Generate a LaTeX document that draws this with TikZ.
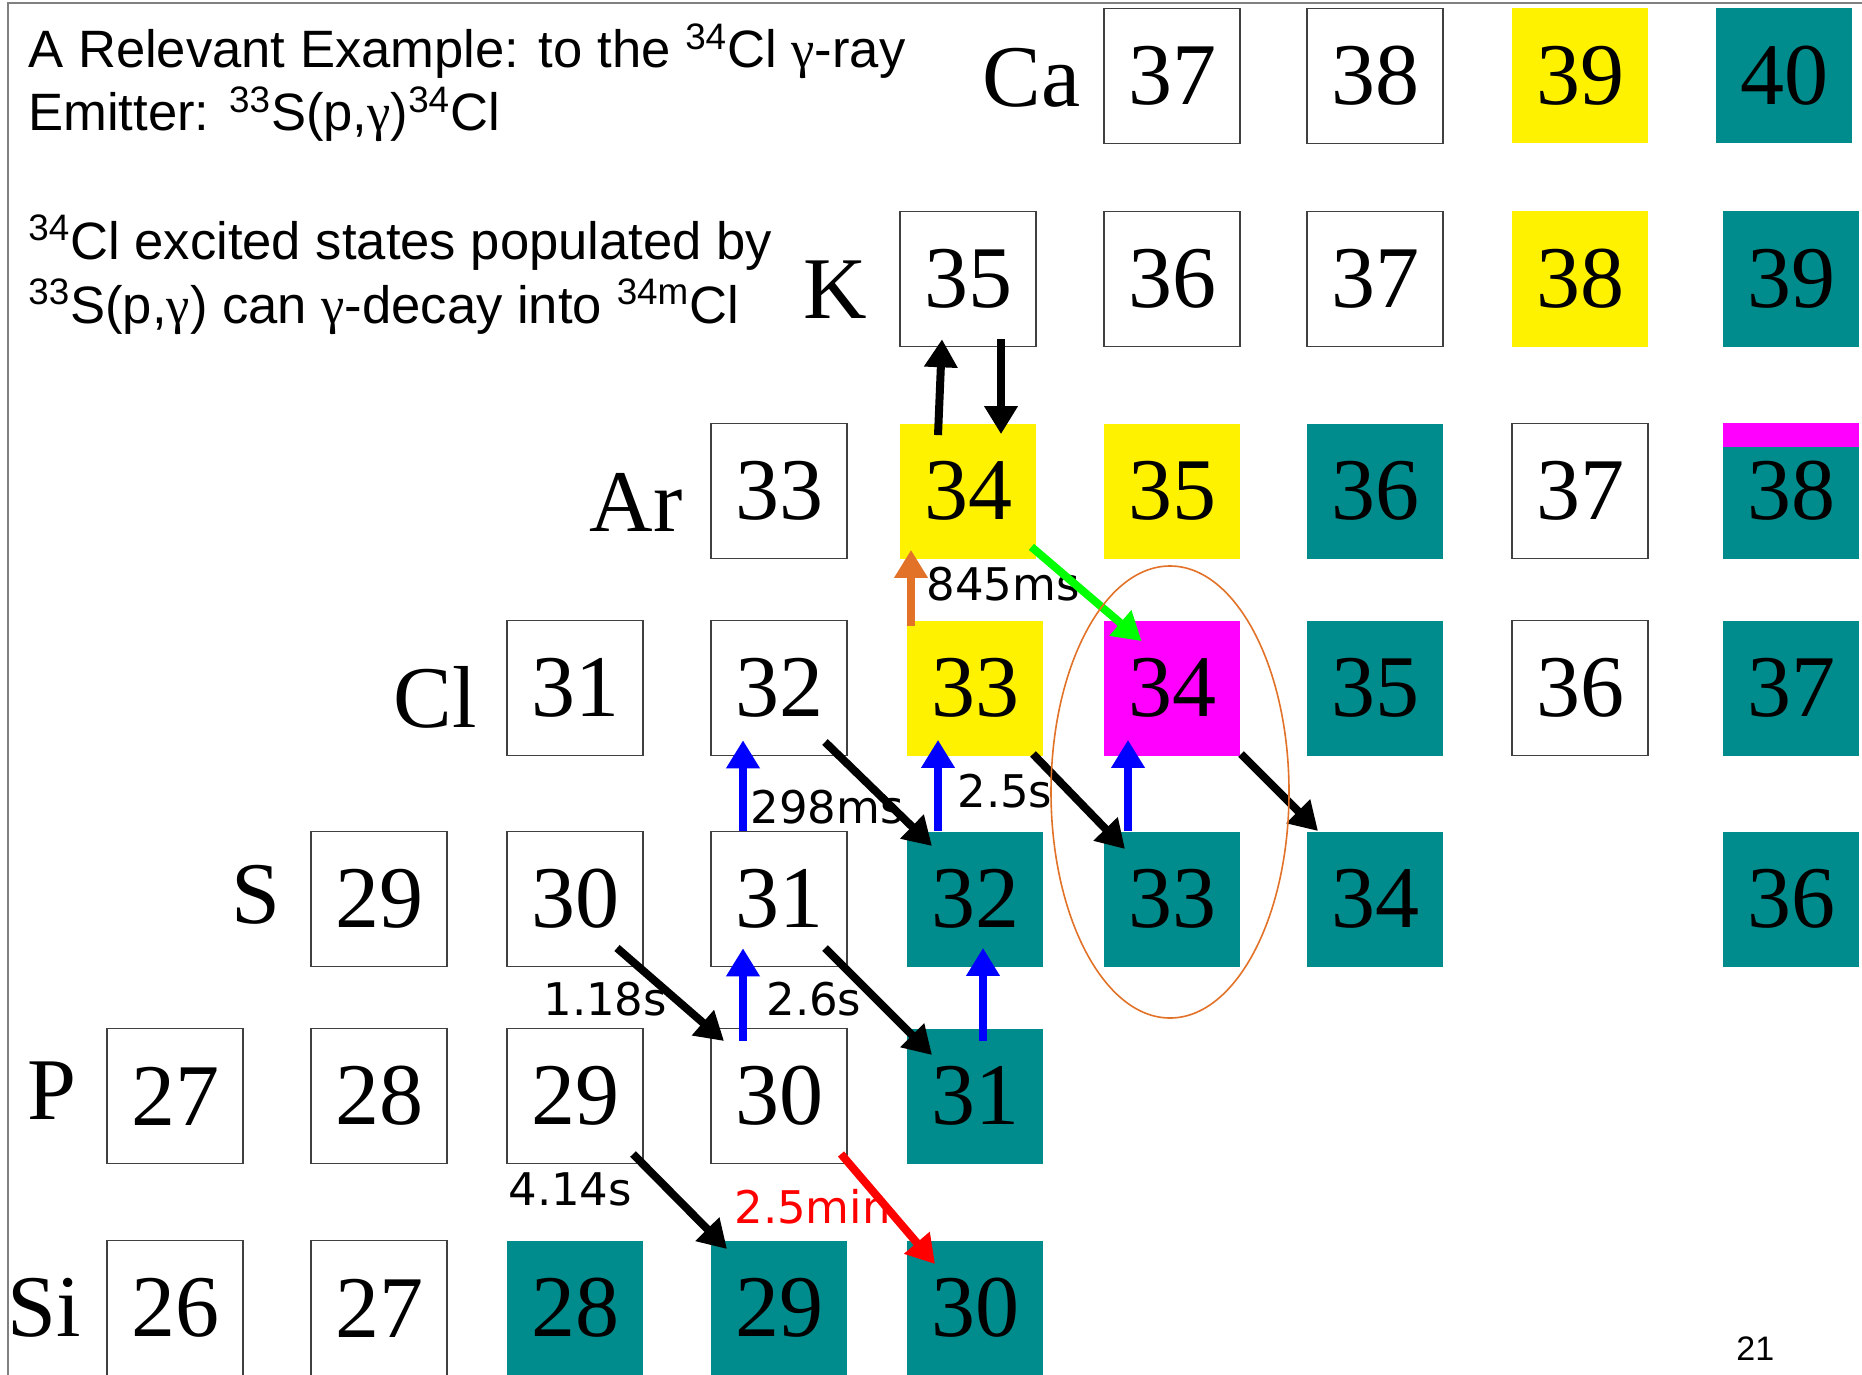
\documentclass[tikz,border=0pt]{standalone}
\usepackage{fontspec}
\setmainfont{Liberation Serif}
\setsansfont{Liberation Sans}
\newfontfamily\lifefont{DejaVu Sans}
\usetikzlibrary{arrows.meta,calc}
\definecolor{stabteal}{RGB}{0,140,140}
\definecolor{ringorange}{RGB}{226,114,40}
\definecolor{isomag}{RGB}{255,0,255}
\newcommand\gam{{\rmfamily γ}}

\tikzset{
  nuc/.style={minimum width=68pt,minimum height=67.5pt,inner sep=0pt,font=\fontsize{44}{50}\selectfont},
  unst/.style={nuc,draw=black!75,line width=0.8pt,fill=white},
  stab/.style={nuc,fill=stabteal},
  prich/.style={nuc,fill=yellow},
  isom/.style={nuc,fill=isomag},
  elem/.style={anchor=base east,inner sep=0pt,font=\fontsize{44}{50}\selectfont},
  life/.style={anchor=base west,inner sep=0pt,font=\lifefont\fontsize{22.5}{26}\selectfont},
  txt/.style={anchor=base west,inner sep=0pt,font=\sffamily\fontsize{26.3}{31}\selectfont},
  dec/.style={-{Triangle[width=16pt,length=14pt]},line width=4pt},
}

\begin{document}
\begin{tikzpicture}[x=0.5pt,y=-0.5pt]
\useasboundingbox (0,0) rectangle (1862,1375);
\draw[gray,line width=1pt] (8,1375) -- (8,3) -- (1862,3);

% text block
\node[txt] (head1) at (28,68) {A Relevant Example: to the \textsuperscript{34}Cl \gam-ray};
\node[txt] (head2) at (28,131) {Emitter: \textsuperscript{33}S(p,\gam)\textsuperscript{34}Cl};
\node[txt] (note1) at (28,259) {\textsuperscript{34}Cl excited states populated by};
\node[txt] (note2) at (28,323) {\textsuperscript{33}S(p,\gam) can \gam-decay into \textsuperscript{34m}Cl};

% element rows
\node[elem] (Ca) at (1081,107) {Ca};
\node[elem] (K) at (867,318) {K};
\node[elem] (Ar) at (683,531) {Ar};
\node[elem] (Cl) at (477,727) {Cl};
\node[elem] (S) at (281,923) {S};
\node[elem] (P) at (77,1119) {P};
\node[elem] (Si) at (81,1336) {Si};

\foreach \m/\x/\s in {37/1172/unst,38/1375/unst,39/1580/prich,40/1784/stab}
  \node[\s] (ca\m) at (\x,76) {\m};
\foreach \m/\x/\s in {35/968/unst,36/1172/unst,37/1375/unst,38/1580/prich,39/1791/stab}
  \node[\s] (k\m) at (\x,279) {\m};
\foreach \m/\x/\s in {33/779/unst,34/968/prich,35/1172/prich,36/1375/stab,37/1580/unst,38/1791/stab}
  \node[\s] (ar\m) at (\x,491) {\m};
\fill[isomag] (ar38.north west) rectangle ($(ar38.north east)+(0,24)$);
\foreach \m/\x/\s in {31/575/unst,32/779/unst,33/975/prich,34/1172/isom,35/1375/stab,36/1580/unst,37/1791/stab}
  \node[\s] (cl\m) at (\x,688) {\m};
\foreach \m/\x/\s in {29/379/unst,30/575/unst,31/779/unst,32/975/stab,33/1172/stab,34/1375/stab,36/1791/stab}
  \node[\s] (s\m) at (\x,899) {\m};
\foreach \m/\x/\s in {27/175/unst,28/379/unst,29/575/unst,30/779/unst,31/975/stab}
  \node[\s] (p\m) at (\x,1096) {\m};
\foreach \m/\x/\s in {26/175/unst,27/379/unst,28/575/stab,29/779/stab,30/975/stab}
  \node[\s] (si\m) at (\x,1308) {\m};

% half-lives
\node[life] (t845) at (926,600) {845ms};
\node[life] (t298) at (750,823) {298ms};
\node[life] (t25s) at (957,807) {2.5s};
\node[life] (t118) at (543,1015) {1.18s};
\node[life] (t26) at (766,1015) {2.6s};
\node[life] (t414) at (508,1205) {4.14s};
\node[life,text=red] (t25min) at (734,1223) {2.5min};

% decays
\draw[dec] ($(ar34.north)+(-30,12)$) -- ($(k35.south)+(-26,-8)$);
\draw[dec] ($(k35.south)+(33,-8)$) -- ($(ar34.north)+(33,11)$);
\draw[dec,ringorange] ($(cl33.north)+(-64,6)$) -- ($(ar34.south)+(-57,-9)$);
\draw[dec,green] ($(ar34.south east)+(-5,-12)$) -- ($(cl34.north west)+(38,21)$);
\draw[dec,blue] ($(s31.north)+(-36,0)$) -- ($(cl32.south)+(-36,-16)$);
\draw[dec,blue] ($(s32.north)+(-37,0)$) -- ($(cl33.south)+(-37,-16)$);
\draw[dec,blue] ($(s33.north)+(-44,0)$) -- ($(cl34.south)+(-44,-16)$);
\draw[dec,blue] ($(p30.north)+(-36,13)$) -- ($(s31.south)+(-36,-19)$);
\draw[dec,blue] ($(p31.north)+(8,13)$) -- ($(s32.south)+(8,-19)$);
\draw[dec] ($(cl32)+(46,54)$) -- ($(s32)+(-43,-53)$);
\draw[dec] ($(cl33)+(58,66)$) -- ($(s33)+(-47,-50)$);
\draw[dec] ($(cl34)+(69,66)$) -- ($(s34)+(-57,-68)$);
\draw[dec] ($(s30)+(42,49)$) -- ($(p30)+(-55,-55)$);
\draw[dec] ($(s31)+(46,49)$) -- ($(p31)+(-43,-41)$);
\draw[dec] ($(p29)+(58,58)$) -- ($(si29)+(-52,-59)$);
\draw[dec,red] ($(p30)+(62,58)$) -- ($(si30)+(-40,-44)$);

\draw[ringorange,line width=0.8pt] (1170,792) ellipse [x radius=119,y radius=226];

\node[anchor=base west,inner sep=0pt,font=\sffamily\fontsize{17}{20}\selectfont] (pagenum) at (1736,1360) {21};
\end{tikzpicture}
\end{document}
